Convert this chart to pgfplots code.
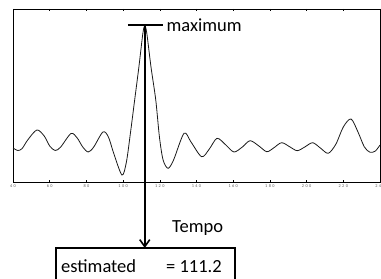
\documentclass[border=0pt]{standalone}
\usepackage{pgfplots}
\pgfplotsset{compat=1.18}
\usepackage{fontspec}
\setmainfont{Carlito}
\usetikzlibrary{arrows.meta}
\newcommand{\tl}[2]{#1\hspace{1.4pt}#2}
\newcommand{\tll}[3]{#1\hspace{1.4pt}#2\hspace{1.4pt}#3}
\begin{document}
\begin{tikzpicture}
\begin{axis}[
  at={(0pt,0pt)}, anchor=south west,
  scale only axis, width=367pt, height=173pt,
  xmin=40, xmax=240, ymin=0, ymax=173,
  xtick={40,60,80,100,120,140,160,180,200,220,240},
  xticklabels={\tl40,\tl60,\tl80,\tll100,\tll120,\tll140,\tll160,\tll180,\tll200,\tll220,\tll240},
  ytick=\empty,
  tick align=inside,
  major tick length=2.5pt,
  tick style={line width=0.6pt, black},
  xticklabel style={font=\fontsize{4.3}{4.3}\selectfont, text=black!65, yshift=0.5pt},
  axis line style={line width=0.9pt},
  clip=false,
]
\addplot[smooth, tension=0.5, line width=0.8pt, black!90] coordinates {
(40,34) (42.7,31.5) (45,33.5) (48,42) (53,52) (57,46) (60,36) (63,31.5) (66,35)
(71.6,48.5) (75,44) (78,35) (81,30) (84,35) (89,50) (92,45) (95,28) (99.4,7)
(101.8,20) (104.0,49) (106.3,82) (108.6,115) (110.8,149) (111.8,156) (112.9,149)
(115.2,115) (117.8,82) (119.8,45) (121.8,22) (124.5,13.7) (127.5,22) (133.2,48.7)
(137,40) (142.8,25.3) (147,33) (151.2,43.7) (156,37) (160.4,30) (165,35)
(169.2,41.3) (174,36) (178.3,30.3) (182,34) (186.4,39.3) (191,35) (194.9,31.3)
(199,35) (203.3,39.3) (207.5,34) (211.8,28.7) (216,38) (220,55) (224.2,63)
(228,50) (231.5,35) (234.6,29.7) (237.5,31) (240,37)
};
\coordinate (pk) at (axis cs:111.8,157);
\end{axis}
\draw[line width=2pt] (115pt,157pt) -- (150pt,157pt);
\node[anchor=base west, font=\fontsize{18.5}{20}\selectfont, inner sep=0pt] at (153.5pt,150.5pt) {maximum};
\draw[line width=1.8pt, -{Straight Barb[length=7pt,width=10pt,line width=1.6pt]}] (pk) -- (pk |- 0,-66pt);
\node[anchor=base west, font=\fontsize{18.5}{20}\selectfont, inner sep=0pt] at (159pt,-50.5pt) {Tempo};
\draw[line width=1.2pt] (43pt,-102pt) -- (43pt,-66pt) -- (222pt,-66pt) -- (222pt,-102pt);
\node[anchor=base west, font=\fontsize{18.5}{20}\selectfont, inner sep=0pt] at (48pt,-90pt) {estimated};
\node[anchor=base west, font=\fontsize{18.5}{20}\selectfont, inner sep=0pt] at (153pt,-90pt) {= 111.2};
\pgfresetboundingbox
\path[use as bounding box] (-13pt,-97pt) rectangle (368pt,182pt);
\end{tikzpicture}
\end{document}
